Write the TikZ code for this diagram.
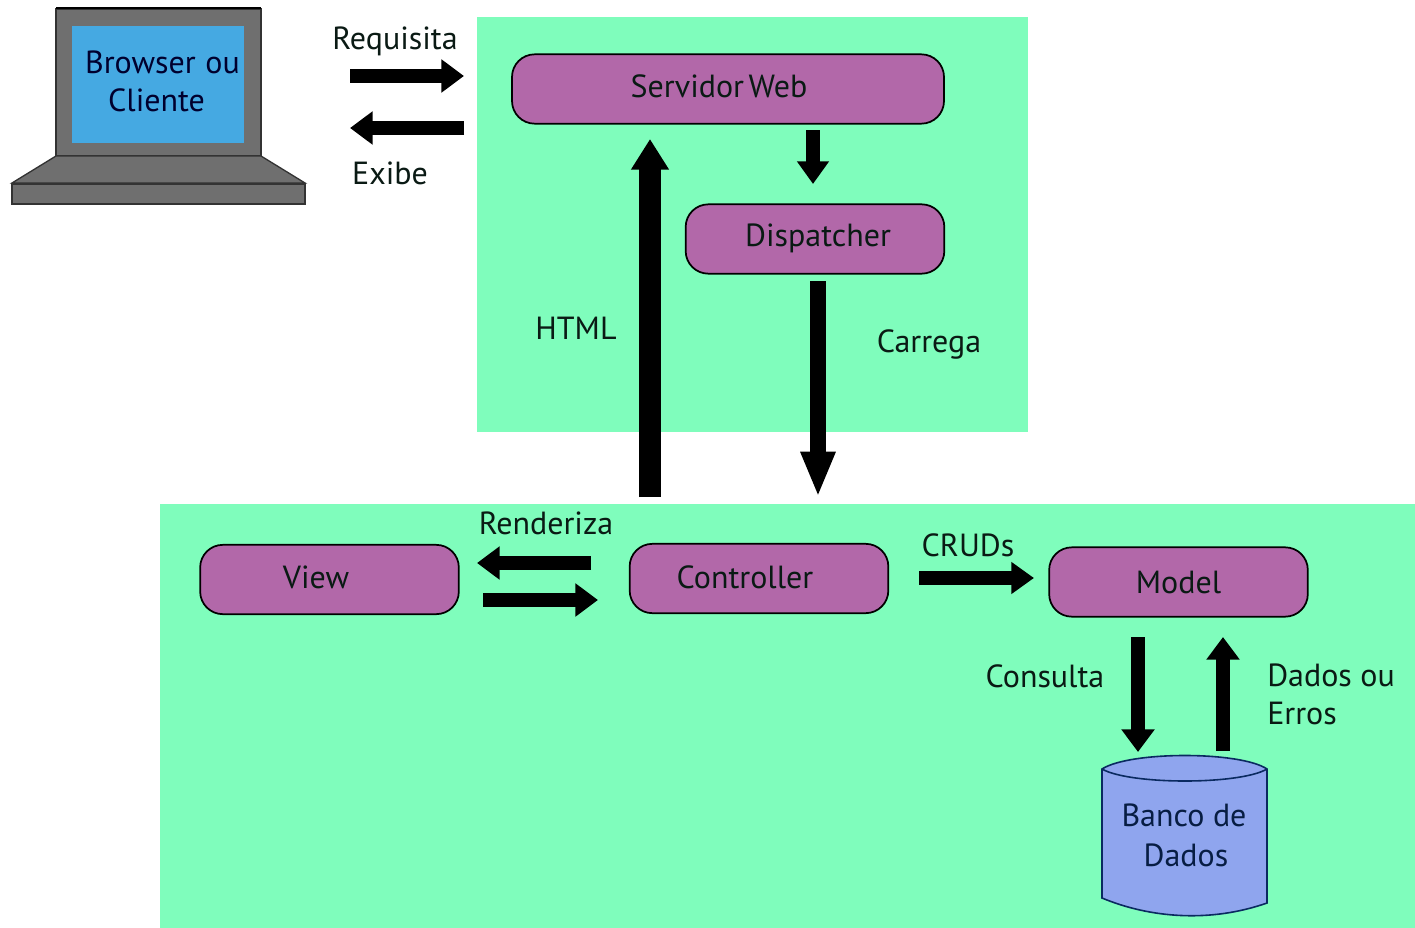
\documentclass[tikz,border=0pt]{standalone}
\usepackage{fontspec}
\setmainfont{PT Sans}
\usetikzlibrary{arrows.meta}
\definecolor{mint}{HTML}{7FFDBC}
\definecolor{proc}{HTML}{B268A9}
\definecolor{lapgrey}{HTML}{6F6F6F}
\definecolor{screenblue}{HTML}{45A9E2}
\definecolor{dbblue}{HTML}{8FA5EE}
\definecolor{dbline}{HTML}{0A2A60}
\definecolor{labelink}{HTML}{0A1A14}
\tikzset{
  px/.style={x=0.75pt,y=-0.75pt},
  procbox/.style={draw=black,line width=1.3pt,fill=proc,rounded corners=17pt,minimum height=52pt,inner sep=0pt,font=\fontsize{24}{28}\selectfont,text=labelink},
  lbl/.style={font=\fontsize{24}{28.5}\selectfont,text=labelink,inner sep=0pt,align=left},
  zone/.style={fill=mint,draw=none},
  lapshape/.style={fill=lapgrey,draw=black!80,line width=1pt},
  blockA/.style={line width=11pt,-{Triangle[length=17pt,width=24pt]}},
  blockB/.style={line width=16pt,-{Triangle[length=23pt,width=27pt]}},
  blockC/.style={line width=11.5pt,-{Triangle[length=34pt,width=24pt]}},
  blockD/.style={line width=10pt,-{Triangle[length=17pt,width=23pt]}},
}
\begin{document}
\begin{tikzpicture}[px]
\useasboundingbox (0,0) rectangle (1415,928);
\fill[white] (0,0) rectangle (1415,928);
% zones
\fill[zone] (477,17) rectangle (1028,432);
\fill[zone] (160,504) rectangle (1415,928);
% laptop
\draw[lapshape] (56,9) rectangle (261,156);
\draw[line width=1.6pt,black] (56,8) -- (261,8);
\fill[screenblue] (72,26) rectangle (244,143);
\draw[lapshape] (56,156) -- (261,156) -- (305,183) -- (12,183) -- cycle;
\draw[lapshape] (12,184) rectangle (305,204);
\node[lbl,align=center,text=black!70!blue!60!black] (browser) at (162.5,81.5) {Browser\hspace{1pt} ou\\\hspace*{-9pt}Cliente};
% process boxes
\node[procbox,minimum width=324pt] (servidor) at (728,89) {};
\node[lbl] (servidortxt) at (719,86) {Servidor\hspace{-3pt} Web};
\node[procbox,minimum width=194pt] (dispatcher) at (815,239) {};
\node[lbl] (dispatchertxt) at (818,238) {Dispatcher};
\node[procbox,minimum width=194pt] (view) at (329.5,579.5) {};
\node[lbl] (viewtxt) at (316,577) {View};
\node[procbox,minimum width=194pt] (controller) at (759,578.5) {};
\node[lbl] (controllertxt) at (745,577) {Controller};
\node[procbox,minimum width=194pt] (model) at (1178.5,582) {Model};
% database
\draw[fill=dbblue,draw=dbline,line width=1.2pt] (1102,769) -- (1102,898) .. controls (1150,918) and (1210,923) .. (1267,903) -- (1267,769) .. controls (1240,751) and (1130,751) .. (1102,769) -- cycle;
\draw[draw=dbline,line width=1.2pt] (1102,769) .. controls (1130,785) and (1240,785) .. (1267,769);
\node[lbl,align=center,text=dbline!70!black,font=\fontsize{24}{30}\selectfont] (banco) at (1184,835) {Banco de\\\hspace*{3pt}Dados};
% free ends
\coordinate (reqA) at (350,76); \coordinate (reqB) at (464,76);
\coordinate (exA) at (464,128); \coordinate (exB) at (350,128);
\coordinate (sdA) at (813,130); \coordinate (sdB) at (813,184);
\coordinate (htA) at (650,497); \coordinate (htB) at (650,139);
\coordinate (caA) at (818,281); \coordinate (caB) at (818,497);
\coordinate (reA) at (591,563); \coordinate (reB) at (477,563);
\coordinate (rvA) at (483,600); \coordinate (rvB) at (598,600);
\coordinate (crA) at (919,578); \coordinate (crB) at (1034,578);
\coordinate (coA) at (1138,637); \coordinate (coB) at (1138,752);
\coordinate (daA) at (1223,751); \coordinate (daB) at (1223,637);
% connectors
\draw[blockA] (reqA) -- (reqB);
\draw[blockA] (exA) -- (exB);
\draw[blockD] (sdA) -- (sdB);
\draw[blockB] (htA) -- (htB);
\draw[blockC] (caA) -- (caB);
\draw[blockA] (reA) -- (reB);
\draw[blockA] (rvA) -- (rvB);
\draw[blockD] (crA) -- (crB);
\draw[blockA] (coA) -- (coB);
\draw[blockA] (daA) -- (daB);
% labels
\node[lbl] (lreq) at (395,41) {Requisita};
\node[lbl] (lex) at (390,173) {Exibe};
\node[lbl] (lhtml) at (576,328) {HTML};
\node[lbl] (lcar) at (929,344) {Carrega};
\node[lbl] (lren) at (546,523) {Renderiza};
\node[lbl] (lcru) at (968,545) {CRUDs};
\node[lbl] (lcon) at (1045,676) {Consulta};
\node[lbl,anchor=north west] (ldad) at (1267,664) {Dados ou\\Erros};
\end{tikzpicture}
\end{document}
